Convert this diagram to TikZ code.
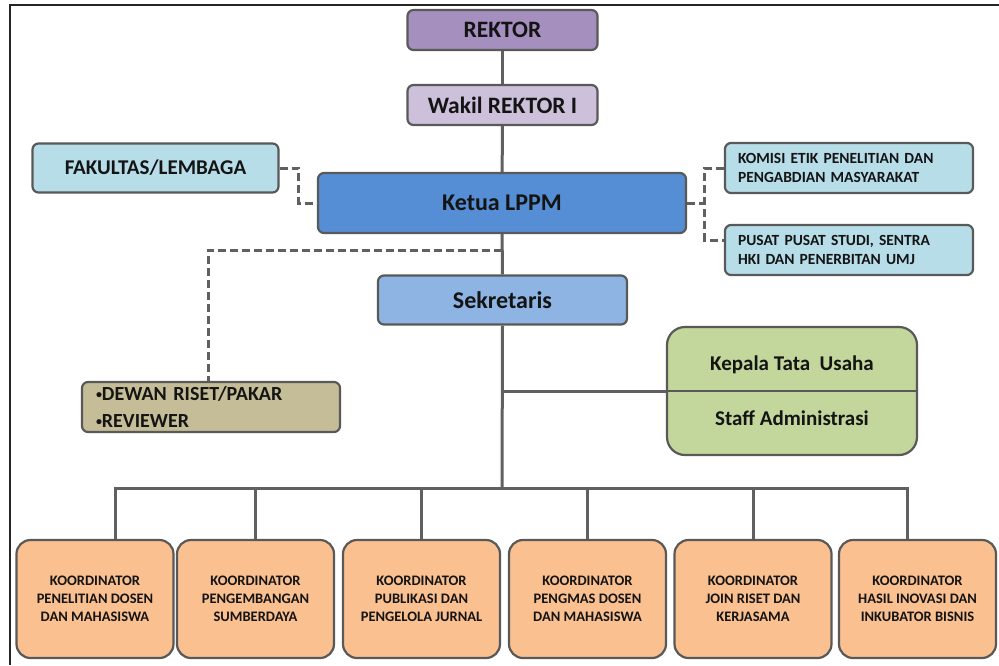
\documentclass[tikz,border=0pt]{standalone}
\usepackage{fontspec}
\setmainfont{Carlito}
\usepackage{tikz}
\usetikzlibrary{positioning,calc}

\definecolor{rektorc}{HTML}{A48FBE}
\definecolor{wakilc}{HTML}{CCC0DA}
\definecolor{lightc}{HTML}{B7DEE8}
\definecolor{ketuac}{HTML}{558ED5}
\definecolor{sekrc}{HTML}{8EB4E3}
\definecolor{dewanc}{HTML}{C4BD97}
\definecolor{tuc}{HTML}{C3D69B}
\definecolor{koorc}{HTML}{FAC090}
\definecolor{boxline}{HTML}{595959}
\definecolor{linec}{HTML}{606060}
\definecolor{txt}{HTML}{141414}

\newcommand{\fsz}[1]{\fontsize{#1}{#1}\selectfont}
\newcommand{\smbullet}{\raisebox{2.5pt}{\fsz{12}\textbullet}}

\begin{document}
\begin{tikzpicture}[
        x=1pt, y=-1pt,
        box/.style={draw=boxline, line width=2.2pt, rounded corners=6pt, text=txt, inner sep=2pt},
        conn/.style={draw=linec, line width=3pt},
        dashed line/.style={conn, dash pattern=on 8pt off 4pt},
        koor/.style={box, rounded corners=14pt, fill=koorc, minimum width=157pt, minimum height=118pt,
          align=center, font=\bfseries\fontsize{14.5}{18}\selectfont},
        every node/.style={color=txt}
      ]
      \useasboundingbox (0,0) rectangle (999,665);
      \fill[white] (0,0) rectangle (999,665);
      \draw[line width=2pt, black!85] (10,665) -- (10,5) -- (999,5);

      % top of the chain
      \node[box, fill=rektorc, minimum width=190pt, minimum height=40pt, font=\bfseries\fsz{23.5}] (rektor) at (502.5,30) {REKTOR};
      \node[box, fill=wakilc, minimum width=190pt, minimum height=40pt, font=\bfseries\fsz{23.5}] (wakil) at (502.5,105) {Wakil REKTOR I};
      \node[box, fill=ketuac, minimum width=368pt, minimum height=60pt, font=\bfseries\fsz{24}] (ketua) at (502,203) {Ketua LPPM};
      \node[box, fill=sekrc, minimum width=249pt, minimum height=49pt, font=\bfseries\fsz{24}] (sekr) at (502.5,300) {Sekretaris};

      % side boxes
      \node[box, fill=lightc, minimum width=246pt, minimum height=49pt, font=\bfseries\fsz{21}] (fakultas) at (155.5,168) {FAKULTAS/LEMBAGA};
      \node[box, fill=lightc, minimum width=248pt, minimum height=50pt, text width=222pt, align=left,
        font=\bfseries\fontsize{15.5}{19}\selectfont] (komisi) at (849,168) {KOMISI ETIK PENELITIAN DAN\\PENGABDIAN MASYARAKAT};
      \node[box, fill=lightc, minimum width=248pt, minimum height=50pt, text width=222pt, align=left,
        font=\bfseries\fontsize{15.5}{19}\selectfont] (pusat) at (849,250) {PUSAT PUSAT STUDI, SENTRA\\HKI DAN PENERBITAN UMJ};
      \node[box, fill=dewanc, minimum width=258pt, minimum height=50pt, text width=230pt, align=left,
        font=\bfseries\fontsize{20}{27}\selectfont] (dewan) at (211,407) {\smbullet DEWAN RISET/PAKAR\\\smbullet REVIEWER};

      \node[box, fill=tuc, rounded corners=18pt, minimum width=250pt, minimum height=128pt] (tu) at (792,391) {};
      \draw[draw=boxline, line width=2.6pt] (tu.west) -- (tu.east);
      \node[font=\bfseries\fsz{21}] (kepala) at (792,365) {Kepala Tata\ \ Usaha};
      \node[font=\bfseries\fsz{21}] (staff) at (792,418) {Staff Administrasi};

      % koordinator row
      \foreach \n/\x/\label in {
          k1/95/{KOORDINATOR\\PENELITIAN DOSEN\\DAN MAHASISWA},
          k2/255.5/{KOORDINATOR\\PENGEMBANGAN\\SUMBERDAYA},
          k3/421.5/{KOORDINATOR\\PUBLIKASI DAN\\PENGELOLA JURNAL},
          k4/587.5/{KOORDINATOR\\PENGMAS DOSEN\\DAN MAHASISWA},
          k5/753/{KOORDINATOR\\JOIN RISET DAN\\KERJASAMA},
          k6/917.5/{KOORDINATOR\\HASIL INOVASI DAN\\INKUBATOR BISNIS}}
        \node[koor] (\n) at (\x,599) {\label};

      % solid lines
      \coordinate (bus) at (502,488);
      \draw[conn] (rektor) -- (wakil);
      \draw[conn] (wakil) -- (ketua);
      \draw[conn] (ketua) -- (sekr);
      \draw[conn] (sekr.south) -- (bus);
      \draw[conn] (sekr.south |- tu.west) -- (tu.west);
      \draw[conn] ($(k1.north)+(20,0)$) |- (bus) -| ($(k6.north)+(-10,0)$);
      \foreach \n in {k2,k3,k4,k5}
        \draw[conn] (bus -| \n.north) -- (\n.north);

      % dashed lines
      \draw[dashed line] (fakultas.east) -- ++(19,0) |- (ketua.west);
      \draw[dashed line] (komisi.west) -- ++(-19,0) coordinate (rtap) |- ($(pusat.west)+(0,-10)$);
      \draw[dashed line] (ketua.east) -- (ketua.east -| rtap);
      \coordinate (ltap) at (502,250);
      \draw[dashed line] (ltap) -| ($(dewan.north)+(-3,0)$);
\end{tikzpicture}
\end{document}
